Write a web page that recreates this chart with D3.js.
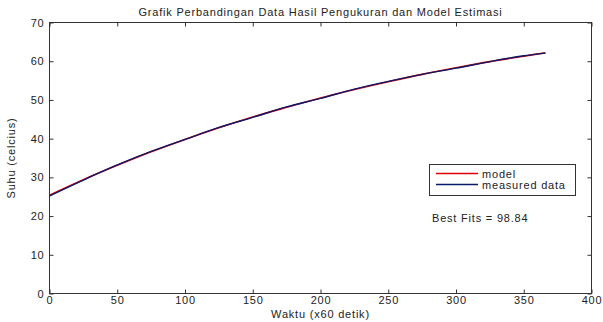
<!DOCTYPE html>
<html><head><meta charset="utf-8">
<script src="https://cdn.jsdelivr.net/npm/d3@7"></script>
<style>body{margin:0;background:#fff}svg{display:block}text{font-family:"Liberation Sans",Arial,sans-serif;letter-spacing:0.8px}</style>
</head><body>
<svg id="c" width="603" height="322"></svg>
<script>
const timeModel = [0,25,50,75,100,125,150,175,200,225,250,275,300,325,350,366];
const tempModel = [25.4,29.4,33.1,36.6,39.8,42.8,45.6,48.1,50.5,52.7,54.7,56.6,58.3,59.9,61.3,62.2];
const timeMeasured = [0,25,50,75,100,125,150,175,200,225,250,275,300,325,350,366];
const tempMeasured = [25.2,29.3,33.2,36.7,39.8,42.9,45.5,48.2,50.4,52.8,54.8,56.6,58.2,59.9,61.4,62.1];
const xTicks = [0,50,100,150,200,250,300,350,400];
const yTicks = [0,10,20,30,40,50,60,70];
const title = "Grafik Perbandingan Data Hasil Pengukuran dan Model Estimasi";
const xLabel = "Waktu (x60 detik)";
const yLabel = "Suhu (celcius)";
const seriesNames = ["model","measured data"];
const seriesColors = ["#e00000","#0a1a6a"];
const note = "Best Fits = 98.84";

const svg = d3.select("#c");
const L=49.5,R=591.5,T=22.5,B=293.5;
const x = d3.scaleLinear().domain([0,400]).range([L,R]);
const y = d3.scaleLinear().domain([0,70]).range([B,T]);
const axCol="#333";
const fs=11;

svg.append("rect").attr("x",L).attr("y",T).attr("width",R-L).attr("height",B-T)
  .attr("fill","none").attr("stroke",axCol).attr("stroke-width",1);

const xb = svg.append("g").attr("transform",`translate(0,${B})`)
  .call(d3.axisBottom(x).tickValues(xTicks).tickSize(-4).tickPadding(3).tickFormat(d3.format("d")));
const xt = svg.append("g").attr("transform",`translate(0,${T})`)
  .call(d3.axisTop(x).tickValues(xTicks).tickSize(-4).tickFormat(""));
const yl = svg.append("g").attr("transform",`translate(${L},0)`)
  .call(d3.axisLeft(y).tickValues(yTicks).tickSize(-4).tickPadding(5).tickFormat(d3.format("d")));
const yr = svg.append("g").attr("transform",`translate(${R},0)`)
  .call(d3.axisRight(y).tickValues(yTicks).tickSize(-4).tickFormat(""));
[xb,xt,yl,yr].forEach(g=>{
  g.select(".domain").remove();
  g.selectAll(".tick line").attr("stroke",axCol);
  g.selectAll(".tick text").attr("fill","#222").style("font-size",fs+"px").style("font-family","Liberation Sans, Arial, sans-serif");
});

const line = d3.line().curve(d3.curveMonotoneX).x(d=>x(d[0])).y(d=>y(d[1]));
svg.append("path").datum(timeModel.map((t,i)=>[t,tempModel[i]]))
  .attr("d",line).attr("fill","none").attr("stroke",seriesColors[0]).attr("stroke-width",1.6);
svg.append("path").datum(timeMeasured.map((t,i)=>[t,tempMeasured[i]]))
  .attr("d",line).attr("fill","none").attr("stroke",seriesColors[1]).attr("stroke-width",1.4);

svg.append("text").attr("x",(L+R)/2).attr("y",15.5).attr("text-anchor","middle")
  .style("font-size","11px").attr("fill","#222").text(title);
svg.append("text").attr("x",(L+R)/2).attr("y",318).attr("text-anchor","middle")
  .style("font-size","11px").attr("fill","#222").text(xLabel);
svg.append("text").attr("transform",`translate(15,${(T+B)/2}) rotate(-90)`).attr("text-anchor","middle")
  .style("font-size","11px").attr("fill","#222").text(yLabel);

const lg = svg.append("g");
lg.append("rect").attr("x",429.5).attr("y",164.5).attr("width",146).attr("height",31)
  .attr("fill","#fff").attr("stroke",axCol).attr("stroke-width",1);
seriesNames.forEach((n,i)=>{
  const yy = 173.5 + i*11;
  lg.append("line").attr("x1",436).attr("x2",478).attr("y1",yy).attr("y2",yy)
    .attr("stroke",seriesColors[i]).attr("stroke-width",1.5);
  lg.append("text").attr("x",482).attr("y",yy+4).style("font-size","11px").attr("fill","#222").text(n);
});
svg.append("text").attr("x",432).attr("y",222).style("font-size","11px").attr("fill","#222").text(note);
</script>
</body></html>
